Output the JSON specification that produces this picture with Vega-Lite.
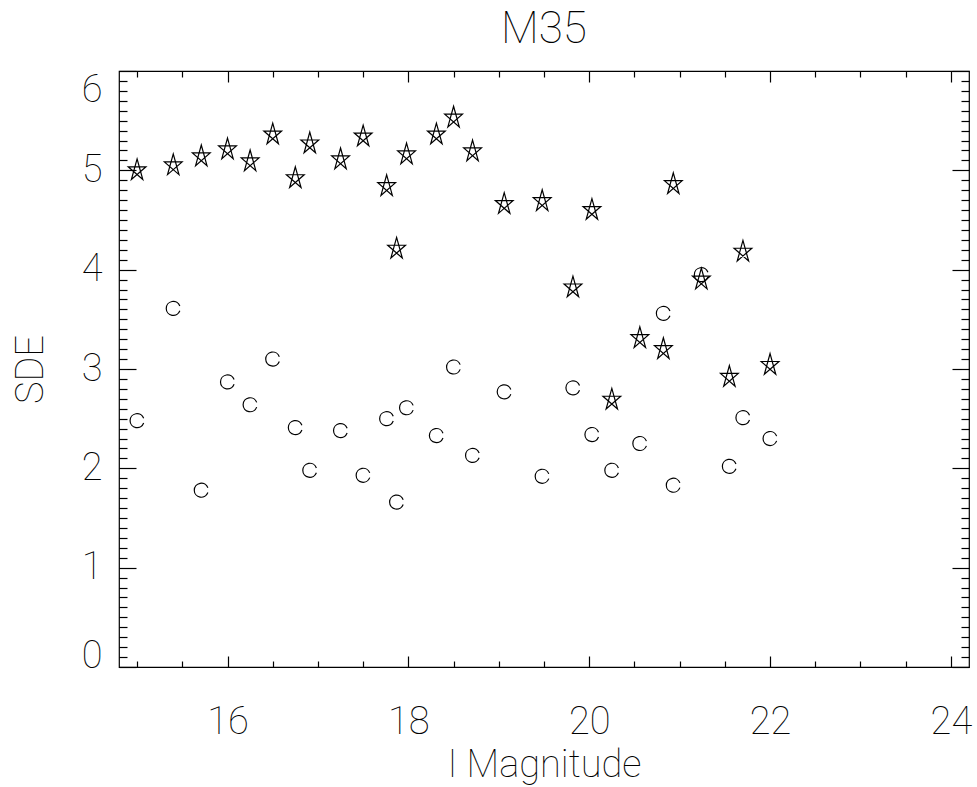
{
  "$schema": "https://vega.github.io/schema/vega-lite/v6.json",
  "width": 850,
  "height": 596,
  "autosize": {"type": "none"},
  "padding": {"left": 119, "top": 71, "right": 8, "bottom": 120},
  "background": "white",
  "title": {"text": "M35", "fontSize": 44, "font": "Roboto", "fontWeight": 100, "color": "black", "offset": 10, "anchor": "middle"},
  "data": {
    "values": [
      {"mag": 15.0, "sde_star": 5.00, "sde_circle": 2.48},
      {"mag": 15.4, "sde_star": 5.05, "sde_circle": 3.61},
      {"mag": 15.71, "sde_star": 5.14, "sde_circle": 1.78},
      {"mag": 16.0, "sde_star": 5.21, "sde_circle": 2.87},
      {"mag": 16.25, "sde_star": 5.09, "sde_circle": 2.64},
      {"mag": 16.5, "sde_star": 5.36, "sde_circle": 3.10},
      {"mag": 16.75, "sde_star": 4.92, "sde_circle": 2.41},
      {"mag": 16.91, "sde_star": 5.27, "sde_circle": 1.98},
      {"mag": 17.25, "sde_star": 5.11, "sde_circle": 2.38},
      {"mag": 17.5, "sde_star": 5.34, "sde_circle": 1.93},
      {"mag": 17.76, "sde_star": 4.84, "sde_circle": 2.50},
      {"mag": 17.87, "sde_star": 4.21, "sde_circle": 1.66},
      {"mag": 17.98, "sde_star": 5.16, "sde_circle": 2.61},
      {"mag": 18.31, "sde_star": 5.36, "sde_circle": 2.33},
      {"mag": 18.5, "sde_star": 5.53, "sde_circle": 3.02},
      {"mag": 18.71, "sde_star": 5.19, "sde_circle": 2.13},
      {"mag": 19.06, "sde_star": 4.66, "sde_circle": 2.77},
      {"mag": 19.48, "sde_star": 4.69, "sde_circle": 1.92},
      {"mag": 19.82, "sde_star": 3.82, "sde_circle": 2.81},
      {"mag": 20.03, "sde_star": 4.60, "sde_circle": 2.34},
      {"mag": 20.25, "sde_star": 2.69, "sde_circle": 1.98},
      {"mag": 20.56, "sde_star": 3.31, "sde_circle": 2.25},
      {"mag": 20.82, "sde_star": 3.20, "sde_circle": 3.56},
      {"mag": 20.93, "sde_star": 4.86, "sde_circle": 1.83},
      {"mag": 21.24, "sde_star": 3.90, "sde_circle": 3.95},
      {"mag": 21.55, "sde_star": 2.92, "sde_circle": 2.02},
      {"mag": 21.7, "sde_star": 4.18, "sde_circle": 2.51},
      {"mag": 22.0, "sde_star": 3.04, "sde_circle": 2.30}
    ]
  },
  "layer": [
    {
      "mark": {"type": "point", "shape": "M0,-1L0.5,0.81L-0.78,-0.31L0.78,-0.31L-0.5,0.81Z", "size": 520, "filled": false, "fill": null, "stroke": "black", "strokeWidth": 1.2, "opacity": 1},
      "encoding": {
        "x": {
          "field": "mag", "type": "quantitative",
          "scale": {"domain": [14.8, 24.2], "nice": false, "zero": false},
          "axis": {
            "orient": "bottom",
            "values": [15, 15.5, 16, 16.5, 17, 17.5, 18, 18.5, 19, 19.5, 20, 20.5, 21, 21.5, 22, 22.5, 23, 23.5, 24],
            "tickSize": {"condition": {"test": "datum.value % 2 === 0", "value": -11}, "value": -6},
            "tickColor": "black", "tickWidth": 1.2,
            "labelExpr": "datum.value % 2 === 0 ? format(datum.value, 'd') : ''",
            "labelOverlap": false, "labelFlush": false,
            "labelPadding": 47, "labelFont": "Roboto", "labelFontWeight": 100, "labelFontSize": 38, "labelColor": "black",
            "domain": false, "grid": false,
            "title": "I Magnitude", "titleFont": "Roboto", "titleFontWeight": 100, "titleFontSize": 38, "titleColor": "black", "titlePadding": 0
          }
        },
        "y": {
          "field": "sde_star", "type": "quantitative",
          "scale": {"domain": [0, 6], "nice": false, "zero": true},
          "axis": {
            "orient": "left",
            "values": [0, 0.1, 0.2, 0.3, 0.4, 0.5, 0.6, 0.7, 0.8, 0.9, 1, 1.1, 1.2, 1.3, 1.4, 1.5, 1.6, 1.7, 1.8, 1.9, 2, 2.1, 2.2, 2.3, 2.4, 2.5, 2.6, 2.7, 2.8, 2.9, 3, 3.1, 3.2, 3.3, 3.4, 3.5, 3.6, 3.7, 3.8, 3.9, 4, 4.1, 4.2, 4.3, 4.4, 4.5, 4.6, 4.7, 4.8, 4.9, 5, 5.1, 5.2, 5.3, 5.4, 5.5, 5.6, 5.7, 5.8, 5.9, 6],
            "tickSize": {"condition": {"test": "datum.value % 1 === 0", "value": -17}, "value": -8},
            "tickColor": "black", "tickWidth": 1.2,
            "labelExpr": "datum.value % 1 === 0 ? format(datum.value, 'd') : ''",
            "labelOverlap": false, "labelFlush": false,
            "labelBaseline": {"condition": [{"test": "datum.value === 0", "value": "alphabetic"}, {"test": "datum.value === 6", "value": "top"}], "value": "middle"},
            "labelPadding": 34, "labelFont": "Roboto", "labelFontWeight": 100, "labelFontSize": 38, "labelColor": "black",
            "domain": false, "grid": false,
            "title": "SDE", "titleFont": "Roboto", "titleFontWeight": 100, "titleFontSize": 38, "titleColor": "black", "titlePadding": 31
          }
        }
      }
    },
    {
      "mark": {"type": "point", "shape": "M0.94,-0.34A1,1,0,1,0,0.94,0.34", "size": 196, "filled": false, "fill": null, "stroke": "black", "strokeWidth": 1.2, "opacity": 1},
      "encoding": {
        "x": {
          "field": "mag", "type": "quantitative",
          "scale": {"domain": [14.8, 24.2], "nice": false, "zero": false},
          "axis": {
            "orient": "top",
            "values": [15, 15.5, 16, 16.5, 17, 17.5, 18, 18.5, 19, 19.5, 20, 20.5, 21, 21.5, 22, 22.5, 23, 23.5, 24],
            "tickSize": {"condition": {"test": "datum.value % 2 === 0", "value": -11}, "value": -6},
            "tickColor": "black", "tickWidth": 1.2,
            "labels": false, "domain": false, "grid": false, "title": null
          }
        },
        "y": {
          "field": "sde_circle", "type": "quantitative",
          "scale": {"domain": [0, 6], "nice": false, "zero": true},
          "axis": {
            "orient": "right",
            "values": [0, 0.1, 0.2, 0.3, 0.4, 0.5, 0.6, 0.7, 0.8, 0.9, 1, 1.1, 1.2, 1.3, 1.4, 1.5, 1.6, 1.7, 1.8, 1.9, 2, 2.1, 2.2, 2.3, 2.4, 2.5, 2.6, 2.7, 2.8, 2.9, 3, 3.1, 3.2, 3.3, 3.4, 3.5, 3.6, 3.7, 3.8, 3.9, 4, 4.1, 4.2, 4.3, 4.4, 4.5, 4.6, 4.7, 4.8, 4.9, 5, 5.1, 5.2, 5.3, 5.4, 5.5, 5.6, 5.7, 5.8, 5.9, 6],
            "tickSize": {"condition": {"test": "datum.value % 1 === 0", "value": -17}, "value": -8},
            "tickColor": "black", "tickWidth": 1.2,
            "labels": false, "domain": false, "grid": false, "title": null
          }
        }
      }
    }
  ],
  "resolve": {"axis": {"x": "independent", "y": "independent"}},
  "config": {
    "view": {"stroke": "black", "strokeWidth": 1.2}
  }
}
